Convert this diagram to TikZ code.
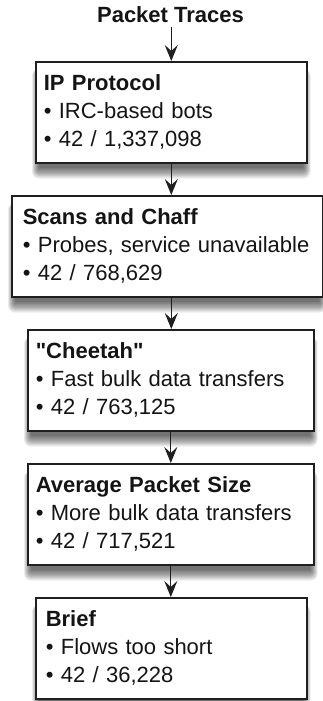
\documentclass[tikz,border=0pt]{standalone}
\usepackage{fontspec}
\setmainfont{Liberation Sans}
\usetikzlibrary{arrows.meta,backgrounds}
\begin{document}
\begin{tikzpicture}[x=1pt,y=1pt,
  font=\fontsize{22}{28}\selectfont,
  stage/.style={draw=black!88, line width=1.6pt, fill=white, rectangle,
    anchor=north west, align=left, minimum height=101pt,
    inner xsep=8pt, inner ysep=0pt, text=black!92},
  flow/.style={draw=black!88, line width=1.2pt,
    -{Stealth[length=16pt,width=13pt,inset=6pt]}},
  haze/.style={fill=black, opacity=0.075}
]
\useasboundingbox (0,0) rectangle (323,-701);

% heading
\node[anchor=base, text=black!92, font=\fontsize{22}{28}\selectfont\bfseries]
  (traces) at (170.5,-23) {Packet Traces};

% filtering stages, top to bottom
\node[stage, text width=255pt] (ip) at (35,-61)
  {\textbf{IP Protocol}\\ • IRC-based bots\\ • 42 / 1,337,098};
\node[stage, text width=289pt, inner xsep=11pt] (scans) at (11,-195)
  {\textbf{Scans and Chaff}\\ • Probes, service unavailable\\ • 42 / 768,629};
\node[stage, text width=270pt] (cheetah) at (27,-329)
  {\textbf{\textquotedbl Cheetah\textquotedbl}\\ • Fast bulk data transfers\\ • 42 / 763,125};
\node[stage, text width=270pt] (avg) at (27,-463)
  {\textbf{Average Packet Size}\\ • More bulk data transfers\\ • 42 / 717,521};
\node[stage, text width=251pt, inner xsep=10pt] (brief) at (35,-597)
  {\textbf{Brief}\\ • Flows too short\\ • 42 / 36,228};

% white page and soft drop shadows below each stage
\begin{scope}[on background layer]
  \fill[white] (0,0) rectangle (323,-701);
  \foreach \n in {ip,scans,cheetah,avg,brief}{
    \foreach \k in {1,...,10}{
      \fill[haze, rounded corners=\k*0.7pt]
        ([xshift=5pt-\k*0.8pt, yshift=-3pt-\k*1.2pt]\n.south west)
        rectangle ([xshift=-5pt+\k*0.8pt, yshift=-8pt]\n.north east);
    }
  }
\end{scope}

% connectors
\draw[flow] (traces.south -| ip.north) -- (ip.north);
\draw[flow] (ip.south) -- (ip.south |- scans.north);
\draw[flow] (ip.south |- scans.south) -- (ip.south |- cheetah.north);
\draw[flow] (cheetah.south) -- (avg.north);
\draw[flow] (avg.south) -- (avg.south |- brief.north);
\end{tikzpicture}
\end{document}
